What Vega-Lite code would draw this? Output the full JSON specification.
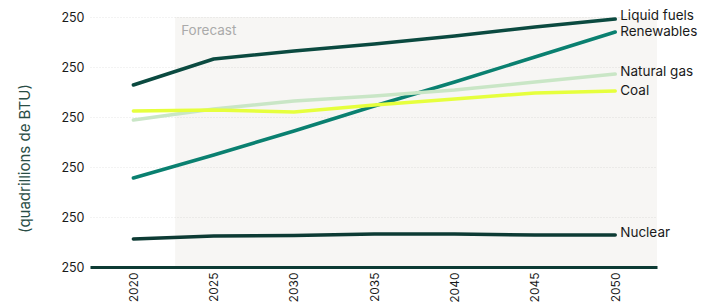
{
  "$schema": "https://vega.github.io/schema/vega-lite/v6.json",
  "width": 567,
  "height": 250,
  "autosize": {"type": "none"},
  "padding": {"left": 90, "top": 17, "right": 55, "bottom": 36},
  "background": "white",
  "config": {"view": {"stroke": null}, "font": "Inter"},
  "datasets": {
    "series": [
      {"year": 2020, "source": "Liquid fuels", "value": 182},
      {"year": 2025, "source": "Liquid fuels", "value": 208},
      {"year": 2030, "source": "Liquid fuels", "value": 216},
      {"year": 2035, "source": "Liquid fuels", "value": 223},
      {"year": 2040, "source": "Liquid fuels", "value": 231},
      {"year": 2045, "source": "Liquid fuels", "value": 240},
      {"year": 2050, "source": "Liquid fuels", "value": 248},
      {"year": 2020, "source": "Renewables", "value": 89},
      {"year": 2025, "source": "Renewables", "value": 112},
      {"year": 2030, "source": "Renewables", "value": 136},
      {"year": 2035, "source": "Renewables", "value": 161},
      {"year": 2040, "source": "Renewables", "value": 185},
      {"year": 2045, "source": "Renewables", "value": 210},
      {"year": 2050, "source": "Renewables", "value": 235},
      {"year": 2020, "source": "Natural gas", "value": 147},
      {"year": 2025, "source": "Natural gas", "value": 158},
      {"year": 2030, "source": "Natural gas", "value": 166},
      {"year": 2035, "source": "Natural gas", "value": 171},
      {"year": 2040, "source": "Natural gas", "value": 177},
      {"year": 2045, "source": "Natural gas", "value": 185},
      {"year": 2050, "source": "Natural gas", "value": 193},
      {"year": 2020, "source": "Coal", "value": 156},
      {"year": 2025, "source": "Coal", "value": 157},
      {"year": 2030, "source": "Coal", "value": 155},
      {"year": 2035, "source": "Coal", "value": 162},
      {"year": 2040, "source": "Coal", "value": 168},
      {"year": 2045, "source": "Coal", "value": 174},
      {"year": 2050, "source": "Coal", "value": 176},
      {"year": 2020, "source": "Nuclear", "value": 28},
      {"year": 2025, "source": "Nuclear", "value": 31},
      {"year": 2030, "source": "Nuclear", "value": 31.5},
      {"year": 2035, "source": "Nuclear", "value": 33},
      {"year": 2040, "source": "Nuclear", "value": 33},
      {"year": 2045, "source": "Nuclear", "value": 32},
      {"year": 2050, "source": "Nuclear", "value": 32}
    ],
    "labels": [
      {"year": 2050, "source": "Liquid fuels", "value": 251},
      {"year": 2050, "source": "Renewables", "value": 235},
      {"year": 2050, "source": "Natural gas", "value": 195},
      {"year": 2050, "source": "Coal", "value": 176},
      {"year": 2050, "source": "Nuclear", "value": 34}
    ],
    "forecast": [
      {"start": 2022.6, "end": 2052.6, "low": 0, "high": 250, "label": "Forecast"}
    ]
  },
  "layer": [
    {
      "data": {"name": "forecast"},
      "mark": {"type": "rect", "color": "#5f4b23", "opacity": 0.05},
      "encoding": {
        "x": {"field": "start", "type": "quantitative", "scale": {"domain": [2017.3, 2052.6], "nice": false, "zero": false},
          "axis": {"zindex": 1, "values": [2020, 2025, 2030, 2035, 2040, 2045, 2050], "format": "d", "labelAngle": -90, "labelAlign": "right", "labelBaseline": "middle", "labelPadding": 5, "labelFontSize": 12, "labelColor": "#1a1a1a", "title": null, "ticks": false, "grid": false, "domainColor": "#0d3b34", "domainWidth": 3}},
        "x2": {"field": "end"},
        "y": {"field": "low", "type": "quantitative", "scale": {"domain": [0, 250], "nice": false},
          "axis": {"zindex": 0, "values": [0, 50, 100, 150, 200, 250], "labelExpr": "'250'", "labelFontSize": 12.5, "labelColor": "#1a1a1a", "labelPadding": 6, "domain": false, "ticks": false, "gridColor": "#e6e6e6", "gridDash": [1, 2], "title": "(quadrillions de BTU)", "titleFontSize": 15, "titleFontWeight": "normal", "titleColor": "#2a4d45", "titlePadding": 28, "titleY": 141}},
        "y2": {"field": "high"}
      }
    },
    {
      "data": {"name": "forecast"},
      "mark": {"type": "text", "align": "left", "baseline": "middle", "dx": 6, "dy": 14, "fontSize": 13.5, "color": "#aaaaaa"},
      "encoding": {
        "x": {"field": "start", "type": "quantitative"},
        "y": {"field": "high", "type": "quantitative"},
        "text": {"field": "label"}
      }
    },
    {
      "data": {"name": "series"},
      "mark": {"type": "line", "strokeWidth": 3.5, "strokeCap": "round", "strokeJoin": "round"},
      "encoding": {
        "x": {"field": "year", "type": "quantitative"},
        "y": {"field": "value", "type": "quantitative"},
        "color": {"field": "source", "type": "nominal", "legend": null,
          "scale": {"domain": ["Liquid fuels", "Renewables", "Natural gas", "Coal", "Nuclear"], "range": ["#0b4a40", "#0a8070", "#c9e6c6", "#e6ff3d", "#0d3b34"]}},
        "detail": {"field": "source"}
      }
    },
    {
      "data": {"name": "labels"},
      "mark": {"type": "text", "align": "left", "baseline": "middle", "dx": 5, "fontSize": 13.5, "color": "#1a1a1a"},
      "encoding": {
        "x": {"field": "year", "type": "quantitative"},
        "y": {"field": "value", "type": "quantitative"},
        "text": {"field": "source"}
      }
    }
  ]
}
